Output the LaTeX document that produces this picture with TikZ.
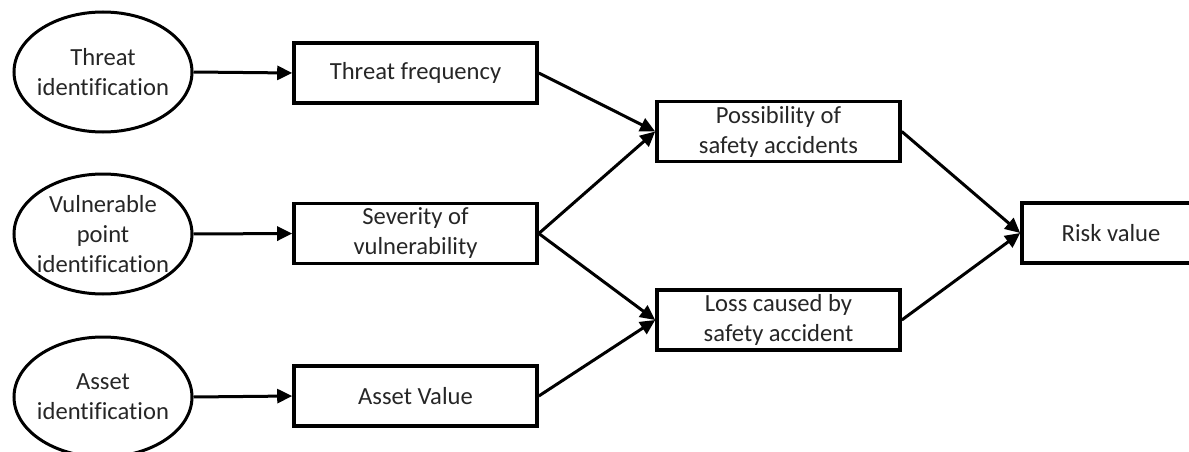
\documentclass[tikz,border=0pt]{standalone}
\usepackage{fontspec}
\setmainfont{Carlito}[Ligatures=NoCommon]
\usetikzlibrary{shapes.geometric,arrows.meta}
\begin{document}
\begin{tikzpicture}[x=1pt,y=-1pt,
  txt/.style={font=\fontsize{24.6}{30}\selectfont, align=center, text=black!85},
  oval/.style={draw, line width=3pt, ellipse, minimum width=178pt, minimum height=120pt, inner sep=0pt},
  boxn/.style={draw, line width=3.6pt, rectangle, minimum width=243pt, minimum height=60pt, inner sep=0pt, txt},
  arr/.style={line width=3pt, -{Triangle[length=15pt,width=14pt]}}
]
\useasboundingbox (0,0) rectangle (1189,452);
% ellipses
\node[oval] (e1) at (103,72) {};
\node[txt] (t1) at (e1.center) {Threat\\identification};
\node[oval] (e2) at (103,234) {};
\node[txt] (t2) at (e2.center) {Vulnerable\\point\\identification};
\node[oval] (e3) at (103,397) {};
\node[txt] (t3) at (e3.center) {Asset\\identification};
% boxes
\node[boxn] (b1) at (415.5,73) {Threat frequency};
\node[boxn] (b2) at (415.5,233.5) {Severity of\\vulnerability};
\node[boxn] (b3) at (415.5,396) {Asset Value};
\node[boxn] (b4) at (778.5,131.5) {Possibility of\\safety accidents};
\node[boxn] (b5) at (778.5,320) {Loss caused by\\safety accident};
\node[boxn, minimum width=210pt] (b6) at (1127,233) {};
\node[txt] (t6) at (1111,233) {Risk value};
% connectors
\draw[arr] (e1.east) -- (b1.west);
\draw[arr] (e2.east) -- (b2.west);
\draw[arr] (e3.east) -- (b3.west);
\draw[arr] (b1.east) -- (b4.west);
\draw[arr] (b2.east) -- (b4.west);
\draw[arr] (b2.east) -- (b5.west);
\draw[arr] (b3.east) -- (b5.west);
\draw[arr] (b4.east) -- (b6.west);
\draw[arr] (b5.east) -- (b6.west);
\end{tikzpicture}
\end{document}
